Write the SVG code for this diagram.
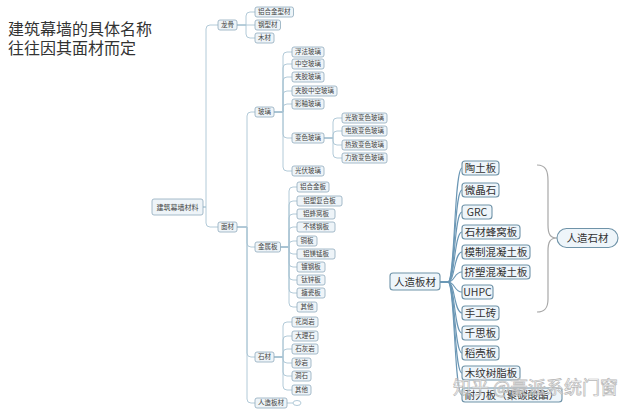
<svg xmlns="http://www.w3.org/2000/svg" width="640" height="414" viewBox="0 0 640 414">
<style>
text{font-family:"Noto Sans CJK SC","Noto Sans",sans-serif;fill:#333}
.t{font-family:"Liberation Sans","Noto Sans CJK SC",sans-serif;font-size:16px}
.s rect{fill:#eef4f8;stroke:#8fabbd;stroke-width:0.8}
.s text{font-size:6.5px;text-anchor:middle;fill:#444}
.b rect{fill:#eef5fa;stroke:#6f93a8;stroke-width:1.1}
.b text{font-size:10.5px;text-anchor:middle}
.lc path{fill:none;stroke:#a9c4d4;stroke-width:0.9}
.rc path{fill:none;stroke:#6b97b5;stroke-width:1.1}
</style>
<rect width="640" height="414" fill="#fff"/>
<g id="title">
<text class="t" x="8" y="35">建筑幕墙的具体名称</text>
<text class="t" x="8" y="53.5">往往因其面材而定</text>
</g>

<g id="connectors-left" class="lc">
<path d="M203,207 H206 V29 Q206,25 210,25 H218"/>
<path d="M203,207 H206 V223 Q206,227 210,227 H218"/>
<path d="M237,25 H246 V16 Q246,12 250,12 H255"/>
<path d="M237,25 H255"/>
<path d="M237,25 H246 V34 Q246,38 250,38 H255"/>
<path d="M237,227 H247 V116 Q247,112 251,112 H255"/>
<path d="M237,227 H247 V243 Q247,247 251,247 H255"/>
<path d="M237,227 H247 V353 Q247,357 251,357 H255"/>
<path d="M237,227 H247 V399 Q247,403 251,403 H255"/>
<path d="M274,112 H283 V56 Q283,52 287,52 H292"/>
<path d="M274,112 H283 V68 Q283,64 287,64 H292"/>
<path d="M274,112 H283 V81 Q283,77 287,77 H292"/>
<path d="M274,112 H283 V95 Q283,91 287,91 H292"/>
<path d="M274,112 H283 V108 Q283,104 287,104 H292"/>
<path d="M274,112 H283 V134 Q283,138 287,138 H292"/>
<path d="M274,112 H283 V167 Q283,171 287,171 H292"/>
<path d="M324,138 H333 V122 Q333,118 337,118 H342"/>
<path d="M324,138 H333 V135 Q333,131 337,131 H342"/>
<path d="M324,138 H333 V141 Q333,145 337,145 H342"/>
<path d="M324,138 H333 V154 Q333,158 337,158 H342"/>
<path d="M280.5,247 H289 V191 Q289,187 293,187 H297"/>
<path d="M280.5,247 H289 V205 Q289,201 293,201 H297"/>
<path d="M280.5,247 H289 V218 Q289,214 293,214 H297"/>
<path d="M280.5,247 H289 V231 Q289,227 293,227 H297"/>
<path d="M280.5,247 H289 V245 Q289,241 293,241 H297"/>
<path d="M280.5,247 H289 V250 Q289,254 293,254 H297"/>
<path d="M280.5,247 H289 V263 Q289,267 293,267 H297"/>
<path d="M280.5,247 H289 V276 Q289,280 293,280 H297"/>
<path d="M280.5,247 H289 V289 Q289,293 293,293 H297"/>
<path d="M280.5,247 H289 V303 Q289,307 293,307 H297"/>
<path d="M274,357 H283 V326 Q283,322 287,322 H292"/>
<path d="M274,357 H283 V340 Q283,336 287,336 H292"/>
<path d="M274,357 H283 V353 Q283,349 287,349 H292"/>
<path d="M274,357 H283 V359 Q283,363 287,363 H292"/>
<path d="M274,357 H283 V372 Q283,376 287,376 H292"/>
<path d="M274,357 H283 V386 Q283,390 287,390 H292"/>
<path d="M287,403 H293"/>
<ellipse cx="297" cy="403" rx="4" ry="2.5" fill="#fff" stroke="#a9c4d4" stroke-width="0.9"/>
</g>

<g id="root" class="s"><rect x="152" y="199" width="51" height="16" rx="2"/><text x="177.5" y="209.5" style="font-size:7px">建筑幕墙材料</text></g>
<g id="n-longgu" class="s"><rect x="218" y="20" width="19" height="10" rx="2"/><text x="227.5" y="27.3">龙骨</text></g>
<g id="n-mian" class="s"><rect x="218" y="222" width="19" height="10" rx="2"/><text x="227.5" y="229.3">面材</text></g>
<g id="n-lhjxc" class="s"><rect x="255" y="7" width="38.5" height="10" rx="2"/><text x="274.25" y="14.3">铝合金型材</text></g>
<g id="n-gxc" class="s"><rect x="255" y="20" width="25.5" height="10" rx="2"/><text x="267.75" y="27.3">钢型材</text></g>
<g id="n-mc" class="s"><rect x="255" y="33" width="19" height="10" rx="2"/><text x="264.5" y="40.3">木材</text></g>
<g id="n-boli" class="s"><rect x="255" y="107" width="19" height="10" rx="2"/><text x="264.5" y="114.3">玻璃</text></g>
<g id="n-jsb" class="s"><rect x="255" y="242" width="25.5" height="10" rx="2"/><text x="267.75" y="249.3">金属板</text></g>
<g id="n-shicai" class="s"><rect x="255" y="352" width="19" height="10" rx="2"/><text x="264.5" y="359.3">石材</text></g>
<g id="n-rzbc-l" class="s"><rect x="255" y="398" width="32" height="10" rx="2"/><text x="271" y="405.3">人造板材</text></g>

<g id="n-g1" class="s"><rect x="292" y="47" width="32" height="10" rx="2"/><text x="308" y="54.3">浮法玻璃</text></g>
<g id="n-g2" class="s"><rect x="292" y="59" width="32" height="10" rx="2"/><text x="308" y="66.3">中空玻璃</text></g>
<g id="n-g3" class="s"><rect x="292" y="72" width="32" height="10" rx="2"/><text x="308" y="79.3">夹胶玻璃</text></g>
<g id="n-g4" class="s"><rect x="292" y="86" width="45" height="10" rx="2"/><text x="314.5" y="93.3">夹胶中空玻璃</text></g>
<g id="n-g5" class="s"><rect x="292" y="99" width="32" height="10" rx="2"/><text x="308" y="106.3">彩釉玻璃</text></g>
<g id="n-g6" class="s"><rect x="292" y="133" width="32" height="10" rx="2"/><text x="308" y="140.3">变色玻璃</text></g>
<g id="n-g7" class="s"><rect x="292" y="166" width="32" height="10" rx="2"/><text x="308" y="173.3">光伏玻璃</text></g>
<g id="n-bs1" class="s"><rect x="342" y="113" width="45" height="10" rx="2"/><text x="364.5" y="120.3">光致变色玻璃</text></g>
<g id="n-bs2" class="s"><rect x="342" y="126" width="45" height="10" rx="2"/><text x="364.5" y="133.3">电致变色玻璃</text></g>
<g id="n-bs3" class="s"><rect x="342" y="140" width="45" height="10" rx="2"/><text x="364.5" y="147.3">热致变色玻璃</text></g>
<g id="n-bs4" class="s"><rect x="342" y="153" width="45" height="10" rx="2"/><text x="364.5" y="160.3">力致变色玻璃</text></g>

<g id="n-m1" class="s"><rect x="297" y="182" width="32" height="10" rx="2"/><text x="313" y="189.3">铝合金板</text></g>
<g id="n-m2" class="s"><rect x="297" y="196" width="45" height="10" rx="2"/><text x="319.5" y="203.3">铝塑复合板</text></g>
<g id="n-m3" class="s"><rect x="297" y="209" width="38" height="10" rx="2"/><text x="316" y="216.3">铝蜂窝板</text></g>
<g id="n-m4" class="s"><rect x="297" y="222" width="38" height="10" rx="2"/><text x="316" y="229.3">不锈钢板</text></g>
<g id="n-m5" class="s"><rect x="297" y="236" width="20" height="10" rx="2"/><text x="307" y="243.3">铜板</text></g>
<g id="n-m6" class="s"><rect x="297" y="249" width="38" height="10" rx="2"/><text x="316" y="256.3">铝镁锰板</text></g>
<g id="n-m7" class="s"><rect x="297" y="262" width="28" height="10" rx="2"/><text x="311" y="269.3">镀钢板</text></g>
<g id="n-m8" class="s"><rect x="297" y="275" width="28" height="10" rx="2"/><text x="311" y="282.3">钛锌板</text></g>
<g id="n-m9" class="s"><rect x="297" y="288" width="28" height="10" rx="2"/><text x="311" y="295.3">搪瓷板</text></g>
<g id="n-m10" class="s"><rect x="297" y="302" width="20" height="10" rx="2"/><text x="307" y="309.3">其他</text></g>

<g id="n-s1" class="s"><rect x="292" y="317" width="26" height="10" rx="2"/><text x="305" y="324.3">花岗岩</text></g>
<g id="n-s2" class="s"><rect x="292" y="331" width="26" height="10" rx="2"/><text x="305" y="338.3">大理石</text></g>
<g id="n-s3" class="s"><rect x="292" y="344" width="26" height="10" rx="2"/><text x="305" y="351.3">石灰岩</text></g>
<g id="n-s4" class="s"><rect x="292" y="358" width="19" height="10" rx="2"/><text x="301.5" y="365.3">砂岩</text></g>
<g id="n-s5" class="s"><rect x="292" y="371" width="19" height="10" rx="2"/><text x="301.5" y="378.3">洞石</text></g>
<g id="n-s6" class="s"><rect x="292" y="385" width="19" height="10" rx="2"/><text x="301.5" y="392.3">其他</text></g>

<g id="connectors-right" class="rc">
<path d="M440,282 H448 C455,282 454,168 462,168"/>
<path d="M440,282 H448 C455,282 454,190 462,190"/>
<path d="M440,282 H448 C455,282 454,212 462,212"/>
<path d="M440,282 H448 C455,282 454,232 462,232"/>
<path d="M440,282 H448 C455,282 454,252 462,252"/>
<path d="M440,282 H448 C455,282 454,272 462,272"/>
<path d="M440,282 H448 C455,282 454,292 462,292"/>
<path d="M440,282 H448 C455,282 454,313 462,313"/>
<path d="M440,282 H448 C455,282 454,333 462,333"/>
<path d="M440,282 H448 C455,282 454,353 462,353"/>
<path d="M440,282 H448 C455,282 454,373 462,373"/>
<path d="M440,282 H448 C455,282 454,395 462,395"/>
</g>
<path id="brace" d="M537,165 C546,165 548,171 548,181 V225 C548,234 550,238 557,238 C550,238 548,242 548,251 V299 C548,308 545,312 537,312" fill="none" stroke="#a8a8a8" stroke-width="1.2"/>

<g id="n-rzbc" class="b"><rect x="390" y="273" width="50" height="17" rx="3"/><text x="415" y="285.7">人造板材</text></g>
<g id="n-r1" class="b"><rect x="462" y="161" width="37" height="14" rx="3"/><text x="480.5" y="171.7">陶土板</text></g>
<g id="n-r2" class="b"><rect x="462" y="183" width="37" height="14" rx="3"/><text x="480.5" y="193.7">微晶石</text></g>
<g id="n-r3" class="b"><rect x="462" y="205" width="30" height="14" rx="3"/><text x="477" y="215.7">GRC</text></g>
<g id="n-r4" class="b"><rect x="462" y="225" width="58" height="14" rx="3"/><text x="491" y="235.7">石材蜂窝板</text></g>
<g id="n-r5" class="b"><rect x="462" y="245" width="68" height="14" rx="3"/><text x="496" y="255.7">模制混凝土板</text></g>
<g id="n-r6" class="b"><rect x="462" y="265" width="68" height="14" rx="3"/><text x="496" y="275.7">挤塑混凝土板</text></g>
<g id="n-r7" class="b"><rect x="462" y="285" width="31" height="14" rx="3"/><text x="477.5" y="295.7">UHPC</text></g>
<g id="n-r8" class="b"><rect x="462" y="306" width="37" height="14" rx="3"/><text x="480.5" y="316.7">手工砖</text></g>
<g id="n-r9" class="b"><rect x="462" y="326" width="37" height="14" rx="3"/><text x="480.5" y="336.7">千思板</text></g>
<g id="n-r10" class="b"><rect x="462" y="346" width="37" height="14" rx="3"/><text x="480.5" y="356.7">稻壳板</text></g>
<g id="n-r11" class="b"><rect x="462" y="366" width="58" height="14" rx="3"/><text x="491" y="376.7">木纹树脂板</text></g>
<g id="n-r12" class="b"><rect x="462" y="388" width="100" height="14" rx="3"/><text x="512" y="398.7">耐力板（聚碳酸酯）</text></g>
<g id="n-rzsc" class="b"><rect x="557" y="228.5" width="61" height="19" rx="9.5"/><text x="587.5" y="241.7">人造石材</text></g>

<text id="watermark" x="453" y="394" font-size="18" style="fill:#fff;fill-opacity:0.55;stroke:#b8b8b8;stroke-width:0.7">知乎 @豪派系统门窗</text>
</svg>
